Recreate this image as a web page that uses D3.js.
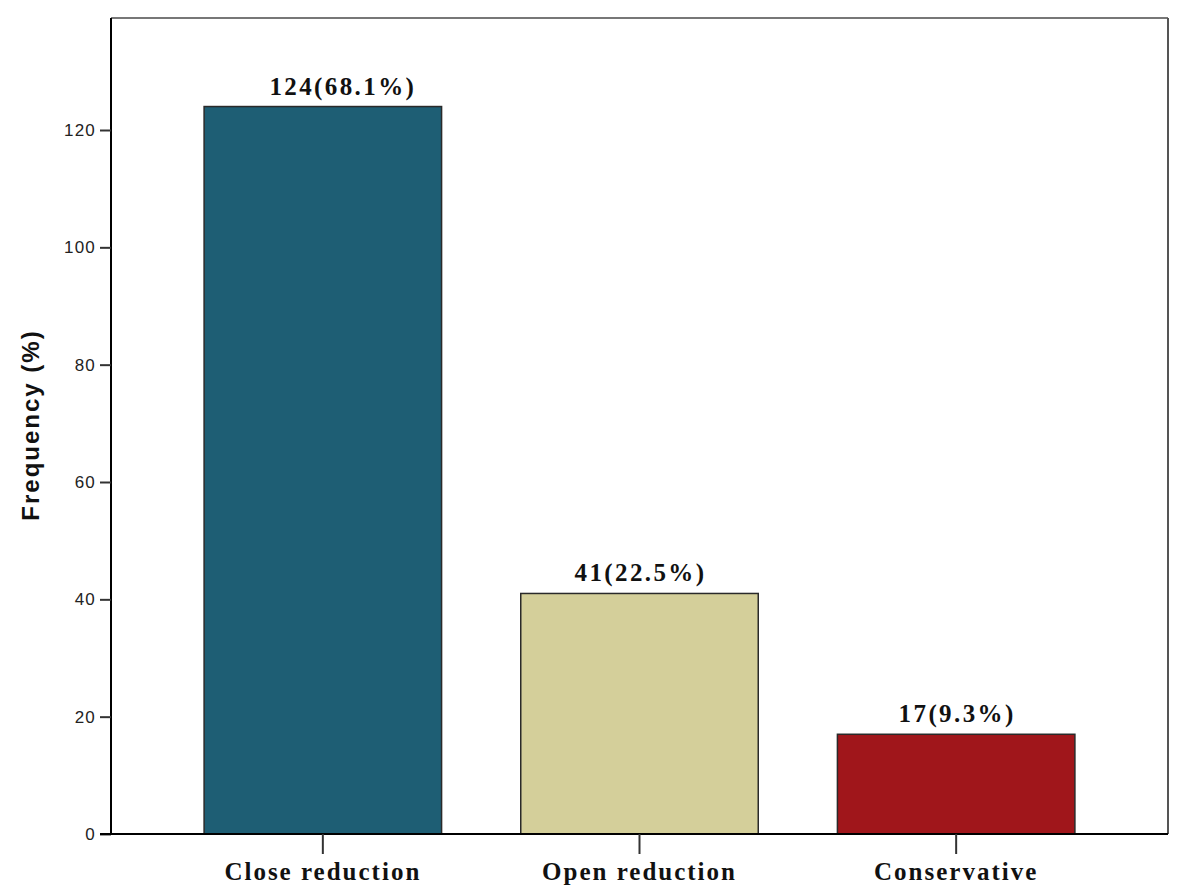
<!DOCTYPE html>
<html>
<head>
<meta charset="utf-8">
<script src="https://cdn.jsdelivr.net/npm/d3@7"></script>
<style>
  html, body { margin: 0; padding: 0; background: #fff; }
  svg { display: block; }
</style>
</head>
<body>
<svg id="chart" width="1181" height="892"></svg>
<script>
const categories = ["Close reduction", "Open reduction", "Conservative"];
const counts = [124, 41, 17];
const percents = ["68.1%", "22.5%", "9.3%"];
const barColors = ["#1e5e74", "#d4cf9a", "#a0161b"];
const yTicks = [0, 20, 40, 60, 80, 100, 120];
const yTitle = "Frequency (%)";

(function () {
const svg = d3.select("#chart");
const pLeft = 111, pRight = 1168, pTop = 18, pBottom = 834;

const x = d3.scaleBand()
  .domain(categories)
  .range([pLeft, pRight])
  .paddingInner(0.25)
  .paddingOuter(0.294);

const y = d3.scaleLinear()
  .domain([0, 120])
  .range([pBottom, 130]);

// frame (top & right in gray)
svg.append("line").attr("x1", pLeft).attr("x2", pRight).attr("y1", pTop).attr("y2", pTop)
  .attr("stroke", "#777").attr("stroke-width", 2);
svg.append("line").attr("x1", pRight).attr("x2", pRight).attr("y1", pTop).attr("y2", pBottom)
  .attr("stroke", "#555").attr("stroke-width", 2);

// bars
svg.selectAll("rect.bar")
  .data(categories)
  .join("rect")
  .attr("class", "bar")
  .attr("x", d => x(d))
  .attr("y", (d, i) => y(counts[i]))
  .attr("width", x.bandwidth())
  .attr("height", (d, i) => y(0) - y(counts[i]))
  .attr("fill", (d, i) => barColors[i])
  .attr("stroke", "#2a2a2a")
  .attr("stroke-width", 1.5);

// value labels
const labelDx = [20, 1, 1];
svg.selectAll("text.val")
  .data(categories)
  .join("text")
  .attr("class", "val")
  .attr("x", (d, i) => x(d) + x.bandwidth() / 2 + labelDx[i])
  .attr("y", (d, i) => y(counts[i]) - 12)
  .attr("text-anchor", "middle")
  .attr("font-family", "Liberation Serif, Times New Roman, serif")
  .attr("font-weight", "bold")
  .attr("font-size", 25)
  .attr("letter-spacing", 2.4)
  .attr("fill", "#111")
  .text((d, i) => `${counts[i]}(${percents[i]})`);

// y axis
const yAxis = svg.append("g")
  .attr("transform", `translate(${pLeft},0)`)
  .call(d3.axisLeft(y).tickValues(yTicks).tickSize(11).tickPadding(4).tickFormat(d3.format("d")));
yAxis.select(".domain").attr("stroke", "#000").attr("stroke-width", 2)
  .attr("d", `M0,${pTop}V${pBottom}`);
yAxis.selectAll(".tick line").attr("stroke", "#333").attr("stroke-width", 2);
yAxis.selectAll(".tick text")
  .attr("font-family", "Liberation Sans, Arial, sans-serif")
  .attr("font-size", 17)
  .attr("letter-spacing", 1.2)
  .attr("fill", "#222");

// x axis
const xAxis = svg.append("g")
  .attr("transform", `translate(0,${pBottom})`)
  .call(d3.axisBottom(x).tickSize(20).tickPadding(8));
xAxis.select(".domain").attr("stroke", "#000").attr("stroke-width", 2)
  .attr("d", `M${pLeft - 11},0H${pRight}`);
xAxis.selectAll(".tick line").attr("stroke", "#333").attr("stroke-width", 2);
xAxis.selectAll(".tick text")
  .attr("font-family", "Liberation Serif, Times New Roman, serif")
  .attr("font-weight", "bold")
  .attr("font-size", 25)
  .attr("letter-spacing", 2)
  .attr("fill", "#111");

// y title
svg.append("text")
  .attr("transform", `translate(39,425) rotate(-90)`)
  .attr("text-anchor", "middle")
  .attr("font-family", "Liberation Sans, Arial, sans-serif")
  .attr("font-weight", "bold")
  .attr("font-size", 24)
  .attr("letter-spacing", 2)
  .attr("fill", "#111")
  .text(yTitle);
})();
</script>
</body>
</html>
